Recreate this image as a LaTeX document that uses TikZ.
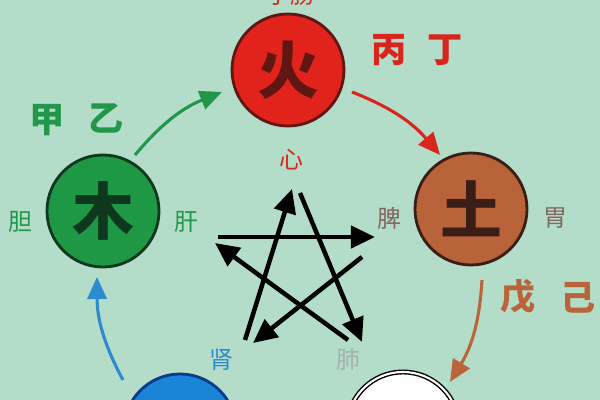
\documentclass[tikz,border=0pt]{standalone}
\usepackage{fontspec}
\newfontfamily\cjk{Noto Sans CJK SC}
\usetikzlibrary{arrows.meta, positioning}
\definecolor{bgmint}{RGB}{180, 221, 201}
\definecolor{firered}{RGB}{226, 35, 28}
\definecolor{firedark}{RGB}{96, 22, 18}
\definecolor{woodgreen}{RGB}{30, 152, 68}
\definecolor{wooddark}{RGB}{14, 56, 30}
\definecolor{earthbrown}{RGB}{184, 99, 58}
\definecolor{earthdark}{RGB}{58, 30, 22}
\definecolor{waterblue}{RGB}{26, 132, 214}
\definecolor{waterdark}{RGB}{12, 58, 138}
\definecolor{labred}{RGB}{216, 38, 30}
\definecolor{labgreen}{RGB}{34, 150, 74}
\definecolor{labbrown}{RGB}{186, 100, 58}
\definecolor{labgrey}{RGB}{128, 104, 94}
\definecolor{labblue}{RGB}{44, 138, 206}
\definecolor{lablight}{RGB}{166, 178, 172}

\begin{document}
\begin{tikzpicture}[
    x=0.025cm, y=-0.025cm,
    elem/.style={circle, line width=2pt, minimum size=2.8cm, inner sep=0pt, font=\cjk\bfseries\fontsize{44}{44}\selectfont},
    organ/.style={inner sep=0pt, font=\cjk\fontsize{17}{17}\selectfont},
    stem/.style={inner sep=0pt, font=\cjk\bfseries\fontsize{25}{25}\selectfont},
    ke/.style={line width=3.2pt, -{Triangle[length=6mm, width=5.5mm]}},
    sheng/.style={line width=2.2pt, -{Triangle[length=5.5mm, width=4.8mm]}, bend left=14}
]

% Background
\fill[bgmint] (0,0) rectangle (600,400);
\useasboundingbox (0,0) rectangle (600,400);

% Elements
\node[elem, fill=firered, draw=firedark, text=firedark] (huo) at (288,70) {火};
\node[elem, fill=woodgreen, draw=wooddark, text=wooddark] (mu) at (103,211) {木};
\node[elem, fill=earthbrown, draw=earthdark, text=earthdark] (tu) at (471,209) {土};
\node[elem, fill=waterblue, draw=waterdark] (shui) at (180,430) {};
\node[elem, fill=white, draw=black, line width=1pt, double=white, double distance=1.5pt] (jin) at (403,428) {};

% Organs
\node[organ, text=labred] (xiaochang) at (290,-5) {小肠};
\node[organ, text=labred] (xin) at (291,160) {心};
\node[organ, text=labgreen] (dan) at (20,222) {胆};
\node[organ, text=labgreen] (gan) at (186,222) {肝};
\node[organ, text=labgrey] (pi) at (389,218) {脾};
\node[organ, text=labgrey] (wei) at (555,218) {胃};
\node[organ, text=labblue] (shen) at (221,360) {肾};
\node[organ, text=lablight] (fei) at (348,360) {肺};

% Stems
\node[stem, text=labred] (bing) at (389,50) {丙};
\node[stem, text=labred] (ding) at (445,50) {丁};
\node[stem, text=labgreen] (jia) at (47,120) {甲};
\node[stem, text=labgreen] (yi) at (106,118) {乙};
\node[stem, text=labbrown] (wu) at (518,297) {戊};
\node[stem, text=labbrown] (ji) at (578,298) {己};

% Generating cycle
\coordinate (mu-out) at (135,155);
\coordinate (huo-in) at (222,92);
\coordinate (huo-out) at (352,92);
\coordinate (tu-in) at (440,155);
\coordinate (tu-out) at (482,280);
\coordinate (jin-in) at (450,382);
\coordinate (shui-out) at (123,380);
\coordinate (mu-in) at (97,277);
\draw[sheng, labgreen] (mu-out) to (huo-in);
\draw[sheng, labred] (huo-out) to (tu-in);
\draw[sheng, labbrown] (tu-out) to (jin-in);
\draw[sheng, labblue] (shui-out) to (mu-in);

% Controlling cycle
\coordinate (ke-mu) at (218,237);
\coordinate (ke-tu) at (375,237);
\coordinate (ke-tu2) at (362,257);
\coordinate (ke-shui) at (253,343);
\coordinate (ke-shui2) at (245,340);
\coordinate (ke-huo) at (292,189);
\coordinate (ke-huo2) at (300,193);
\coordinate (ke-jin) at (362,342);
\coordinate (ke-jin2) at (348,340);
\coordinate (ke-mu2) at (215,243);
\draw[ke] (ke-mu) -- (ke-tu);
\draw[ke] (ke-tu2) -- (ke-shui);
\draw[ke] (ke-shui2) -- (ke-huo);
\draw[ke] (ke-huo2) -- (ke-jin);
\draw[ke] (ke-jin2) -- (ke-mu2);

\end{tikzpicture}
\end{document}
